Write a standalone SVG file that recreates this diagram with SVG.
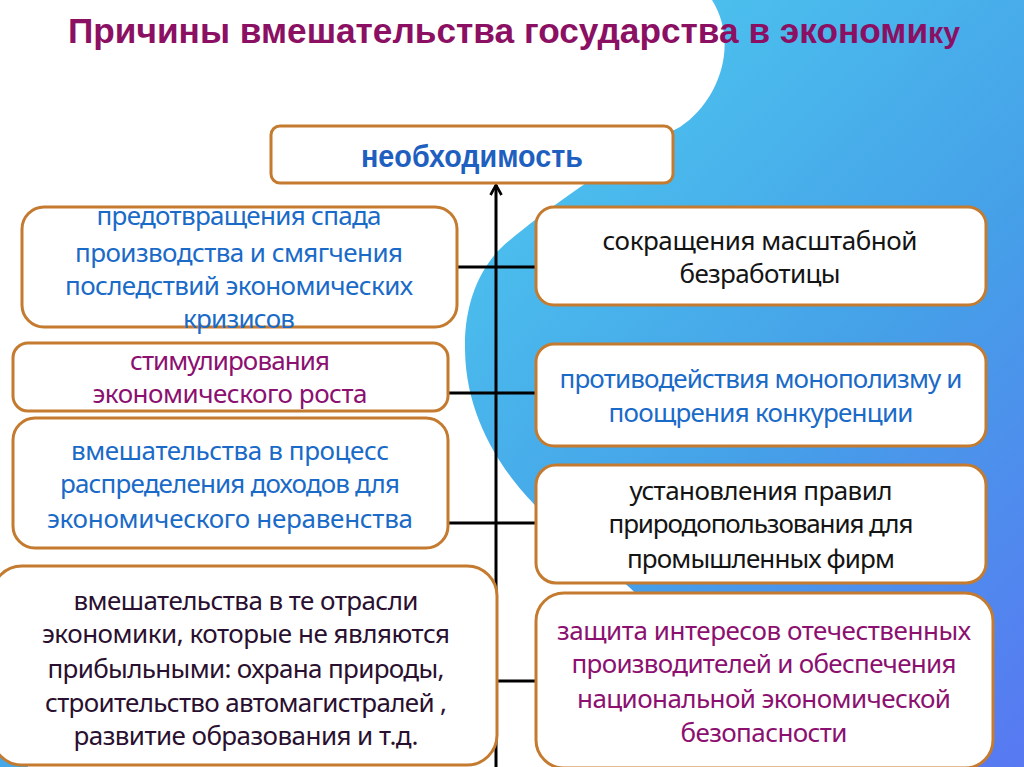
<svg xmlns="http://www.w3.org/2000/svg" width="1024" height="767" viewBox="0 0 1024 767">
<defs>
<linearGradient id="bg" x1="0.3" y1="0" x2="1" y2="1">
<stop offset="0" stop-color="#4cc4ee"/>
<stop offset="0.5" stop-color="#45a0e8"/>
<stop offset="1" stop-color="#5878f2"/>
</linearGradient>
<marker id="arr" viewBox="0 0 14 14" refX="12" refY="7" markerWidth="14" markerHeight="14" markerUnits="userSpaceOnUse" orient="auto">
<path d="M2,1.5 L12,7 L2,12.5" fill="none" stroke="#000" stroke-width="2.6" stroke-linejoin="miter"/>
</marker>
<style>
.box{fill:#fff;stroke:#c47b2f;stroke-width:3}
.t{font-family:"Noto Sans","Liberation Sans",sans-serif;font-size:26px;text-anchor:middle}
.blue{fill:#1a6ac8}
.pur{fill:#8b1070}
.blk{fill:#141414}
.dk{fill:#2a1030}
.con{stroke:#000;stroke-width:3;fill:none}
</style>
</defs>
<rect width="1024" height="767" fill="#fff"/>
<path d="M712,0 L1024,0 L1024,767 L820,767 L629,587 L537,507 C510,480 466,425 465,350 C464,300 482,262 510,240 C540,215 610,162 680,127 C718,102 740,45 712,0 Z" fill="url(#bg)"/>
<path d="M0,738 Q22,748 28,767 L0,767 Z" fill="#45a8e8"/>

<text x="68" y="43" font-family="'Liberation Sans Narrow','Liberation Sans',sans-serif" font-weight="bold" font-size="35" fill="#8b1063" textLength="892" lengthAdjust="spacingAndGlyphs">Причины вмешательства государства в экономи<tspan font-size="30">ку</tspan></text>

<g id="connectors">
<line class="con" x1="496" y1="767" x2="496" y2="185" marker-end="url(#arr)"/>
<line class="con" x1="457" y1="267" x2="536" y2="267"/>
<line class="con" x1="448" y1="393" x2="536" y2="393"/>
<line class="con" x1="448" y1="523" x2="536" y2="523"/>
<line class="con" x1="448" y1="681" x2="536" y2="681"/>
</g>

<g id="top">
<rect class="box" x="271" y="126" width="402" height="57" rx="9"/>
<text x="472" y="167" font-family="'Liberation Sans Narrow','Liberation Sans',sans-serif" font-weight="bold" font-size="32" fill="#1e5fc0" text-anchor="middle" textLength="222" lengthAdjust="spacingAndGlyphs">необходимость</text>
</g>

<g id="left1">
<rect class="box" x="22" y="207" width="435" height="120" rx="22"/>
<text class="t blue"><tspan x="239" y="225" textLength="285">предотвращения спада</tspan><tspan x="239" y="262" textLength="328">производства и смягчения</tspan><tspan x="239" y="295" textLength="348">последствий экономических</tspan><tspan x="239" y="328" textLength="112">кризисов</tspan></text>
</g>

<g id="left2">
<rect class="box" x="13" y="343" width="435" height="68" rx="15"/>
<text class="t pur"><tspan x="230" y="370" textLength="200">стимулирования</tspan><tspan x="230" y="403" textLength="275">экономического роста</tspan></text>
</g>

<g id="left3">
<rect class="box" x="13" y="418" width="435" height="130" rx="22"/>
<text class="t blue"><tspan x="230" y="460" textLength="318">вмешательства в процесс</tspan><tspan x="230" y="493" textLength="340">распределения доходов для</tspan><tspan x="230" y="528" textLength="366">экономического неравенства</tspan></text>
</g>

<g id="left4">
<rect class="box" x="-8" y="566" width="505" height="199" rx="30"/>
<text class="t dk"><tspan x="246" y="610" textLength="345">вмешательства в те отрасли</tspan><tspan x="246" y="643" textLength="408">экономики, которые не являются</tspan><tspan x="246" y="678" textLength="397">прибыльными: охрана природы,</tspan><tspan x="246" y="712" textLength="402">строительство автомагистралей ,</tspan><tspan x="246" y="745" textLength="345">развитие образования и т.д.</tspan></text>
</g>

<g id="right1">
<rect class="box" x="536" y="207" width="450" height="98" rx="18"/>
<text class="t blk"><tspan x="760" y="250" textLength="315">сокращения масштабной</tspan><tspan x="760" y="283" textLength="161">безработицы</tspan></text>
</g>

<g id="right2">
<rect class="box" x="536" y="344" width="450" height="102" rx="18"/>
<text class="t blue"><tspan x="761" y="388" textLength="403">противодействия монополизму и</tspan><tspan x="761" y="422" textLength="305">поощрения конкуренции</tspan></text>
</g>

<g id="right3">
<rect class="box" x="536" y="465" width="450" height="118" rx="20"/>
<text class="t blk"><tspan x="761" y="500" textLength="263">установления правил</tspan><tspan x="761" y="533" textLength="305">природопользования для</tspan><tspan x="761" y="568" textLength="268">промышленных фирм</tspan></text>
</g>

<g id="right4">
<rect class="box" x="536" y="593" width="457" height="175" rx="28"/>
<text class="t pur"><tspan x="764" y="640" textLength="414">защита интересов отечественных</tspan><tspan x="764" y="673" textLength="385">производителей и обеспечения</tspan><tspan x="764" y="708" textLength="374">национальной экономической</tspan><tspan x="764" y="742" textLength="167">безопасности</tspan></text>
</g>
</svg>
